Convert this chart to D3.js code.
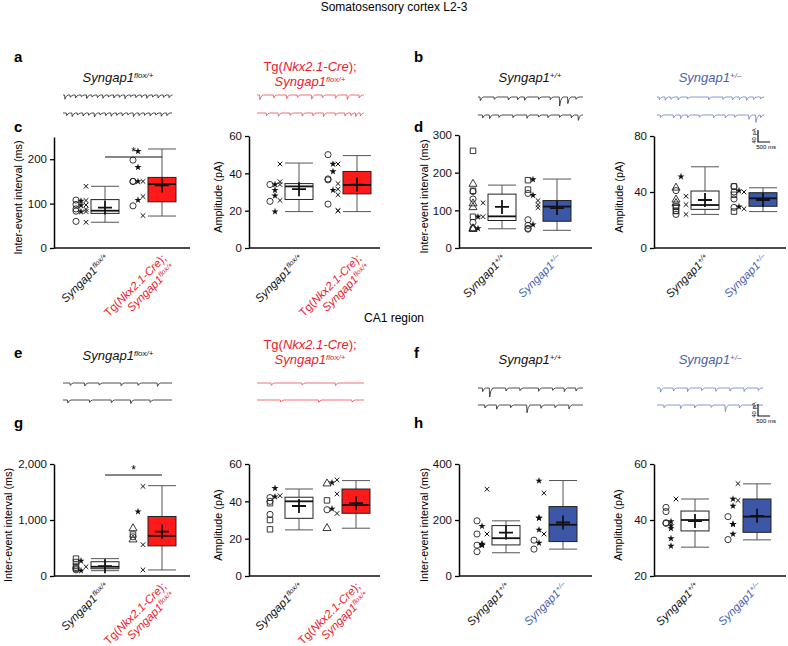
<!DOCTYPE html>
<html><head><meta charset="utf-8">
<script src="https://cdn.jsdelivr.net/npm/d3@7"></script>
<style>body{margin:0;background:#fff}svg{font-family:"Liberation Sans",Arial,sans-serif}</style>
</head><body>
<svg id="fig" width="788" height="646"></svg>
<script>
// ================= DATA =================
// box stats: [whiskerLow, q1, median, q3, whiskerHigh, mean]
const cIEI_flox = [58, 78, 84, 109, 139, 91];
const cIEI_cre  = [72, 104, 144, 159, 223, 141];
const cAmp_flox = [19.5, 26, 33, 34.5, 45.5, 31.5];
const cAmp_cre  = [19.5, 29, 33.8, 41, 49.5, 34];
const dIEI_wt   = [51, 73, 84, 143, 167, 109];
const dIEI_het  = [47, 71, 110, 126, 183, 106];
const dAmp_wt   = [24, 27.6, 30.7, 40.7, 58, 34.3];
const dAmp_het  = [26, 29.8, 35.5, 39.5, 43, 34.3];
const gIEI_flox = [95, 130, 165, 255, 310, 175];
const gIEI_cre  = [108, 538, 717, 1063, 1613, 794];
const gAmp_flox = [24.7, 30.9, 40, 42.2, 46.6, 37.5];
const gAmp_cre  = [25.6, 33.6, 38, 46.6, 51.1, 39];
const hIEI_wt   = [83, 111, 135, 180, 197, 155];
const hIEI_het  = [96, 123, 183, 248, 341, 191];
const hAmp_wt   = [30.3, 36.1, 40, 43.2, 47.5, 39.6];
const hAmp_het  = [32.9, 35.6, 41.2, 47.5, 52.9, 41.5];

// individual cells: [value, symbol]  (o circle, s square, t triangle, * star, x cross)
const cIEI_floxPts = [[139,"x"],[108,"o"],[106,"*"],[107,"x"],[98,"o"],[96,"*"],[97,"x"],[88,"o"],[87,"x"],[83,"o"],[82,"*"],[82,"x"],[60,"o"],[58,"x"]];
const cIEI_crePts  = [[218,"*"],[198,"o"],[182,"*"],[150,"o"],[150,"o"],[150,"*"],[150,"x"],[116,"x"],[108,"*"],[95,"o"],[73,"x"]];
const cAmp_floxPts = [[45,"x"],[35.5,"x"],[34,"x"],[34,"*"],[34,"o"],[31,"*"],[28,"*"],[25,"o"],[25.5,"x"],[19.5,"*"]];
const cAmp_crePts  = [[50,"o"],[45,"*"],[45,"x"],[41,"*"],[37,"o"],[36.5,"o"],[34.5,"x"],[31,"*"],[31.5,"x"],[28.5,"x"],[23.5,"o"],[20,"x"],[20,"x"]];
const dIEI_wtPts   = [[258,"s"],[170,"t"],[150,"o"],[152,"s"],[130,"o"],[120,"x"],[118,"t"],[108,"t"],[83,"x"],[83,"s"],[83,"*"],[68,"o"],[52,"t"],[52,"o"],[50,"t"],[52,"*"]];
const dIEI_hetPts  = [[180,"s"],[182,"*"],[155,"s"],[145,"o"],[140,"*"],[126,"x"],[115,"x"],[107,"x"],[75,"o"],[62,"*"],[60,"o"],[50,"o"],[52,"o"]];
const dAmp_wtPts   = [[51,"*"],[43,"t"],[41,"o"],[37,"x"],[34.5,"t"],[32,"t"],[31,"x"],[29.5,"o"],[29.5,"s"],[26.5,"s"],[26.5,"s"],[24,"x"],[24,"o"]];
const dAmp_hetPts  = [[44,"o"],[44,"s"],[40,"x"],[40,"o"],[41,"*"],[38,"s"],[35,"o"],[29,"o"],[28,"x"],[29.5,"*"],[26,"s"]];
const gIEI_floxPts = [[110,"o"],[180,"s"],[130,"o"],[250,"s"],[270,"*"],[165,"x"],[150,"o"],[310,"s"],[95,"*"]];
const gIEI_crePts  = [[1600,"x"],[1150,"*"],[850,"t"],[740,"s"],[700,"o"],[650,"t"],[560,"x"],[110,"x"]];
const gAmp_floxPts = [[47,"*"],[43,"x"],[42,"o"],[42.5,"*"],[40,"o"],[39,"s"],[33,"o"],[30,"s"],[25,"s"]];
const gAmp_crePts  = [[51.5,"x"],[50,"*"],[49.5,"t"],[44,"x"],[40.5,"s"],[36,"*"],[35.5,"o"],[33.5,"x"],[25.6,"t"]];
const hIEI_wtPts   = [[310,"x"],[197,"o"],[178,"*"],[150,"x"],[150,"o"],[115,"*"],[110,"o"],[110,"*"],[112,"*"],[87,"o"]];
const hIEI_hetPts  = [[340,"*"],[296,"x"],[207,"*"],[207,"*"],[165,"*"],[150,"x"],[128,"o"],[118,"*"],[96,"o"]];
const hAmp_wtPts   = [[47.5,"x"],[44.5,"o"],[43,"o"],[39,"o"],[38.8,"o"],[39.5,"*"],[38,"*"],[37,"*"],[33.4,"*"],[30.7,"*"]];
const hAmp_hetPts  = [[53,"x"],[47,"x"],[47.5,"*"],[45,"*"],[41.2,"o"],[38.5,"*"],[38.5,"*"],[35,"*"],[33,"o"]];

// axis ticks
const iei_c_ticks = [0, 100, 200];
const amp_ticks60 = [0, 20, 40, 60];
const iei_d_ticks = [0, 100, 200, 300];
const amp_ticks80 = [0, 40, 80];
const iei_g_ticks = [0, 1000, 2000];
const iei_h_ticks = [0, 200, 400];
const amp_h_ticks = [20, 40, 60];

// example traces: events [time ms, amplitude pA]
const trA_flox1 = [[80,14],[300,8],[520,10],[760,6],[980,12],[1200,7],[1420,9],[1650,11],[1880,7],[2100,10],[2330,8],[2560,12],[2790,6],[3010,9],[3240,8],[3460,11],[3700,7],[3930,10],[4150,8],[4380,9]];
const trA_flox2 = [[150,9],[380,12],[600,7],[830,10],[1060,8],[1300,13],[1530,7],[1760,9],[1990,11],[2220,8],[2450,10],[2680,7],[2910,12],[3140,9],[3370,8],[3600,10],[3830,7],[4060,11],[4290,9]];
const trA_cre1  = [[120,16],[700,10],[1250,12],[1700,8],[2300,14],[2750,9],[3300,11],[3800,15],[4300,10]];
const trA_cre2  = [[400,9],[900,11],[1400,8],[1900,10],[2350,9],[2800,12],[3300,8],[3700,10],[3950,9],[4150,12],[4350,10]];
const trB_wt1   = [[100,12],[700,8],[1300,10],[1700,9],[2000,11],[2600,8],[3100,9],[3500,30],[3850,22],[4200,8]];
const trB_wt2   = [[200,10],[500,12],[900,8],[1500,9],[2100,11],[2600,7],[3000,9],[3500,8],[4000,10],[4300,18]];
const trB_het1  = [[100,9],[350,11],[600,8],[900,10],[1300,7],[2200,9],[2800,8],[3200,10],[3500,9],[3800,11],[4100,8],[4400,7]];
const trB_het2  = [[150,8],[700,10],[1000,12],[1300,9],[1800,8],[2400,9],[2900,10],[3300,8],[3900,14],[4200,25],[4400,9]];
const trE_flox1 = [[300,8],[900,10],[1500,7],[2400,9],[3100,8],[3900,11]];
const trE_flox2 = [[200,10],[1100,8],[2000,9],[2800,12],[3600,8]];
const trE_cre1  = [[600,8],[1900,7],[3300,9]];
const trE_cre2  = [[1000,7],[2600,8],[4000,7]];
const trF_wt1   = [[200,12],[500,30],[1200,10],[1800,9],[2600,11],[3200,8],[3700,12],[4200,10]];
const trF_wt2   = [[300,10],[800,14],[1400,9],[2100,26],[2700,11],[3300,9],[3900,13]];
const trF_het1  = [[150,14],[700,10],[1300,12],[1900,9],[2500,11],[3100,10],[3700,12],[4300,9]];
const trF_het2  = [[300,9],[1000,12],[1600,10],[2300,8],[2900,22],[3500,10],[4100,11]];

// ================= STYLE / LAYOUT =================
const RED = "#ff1a1a", RED_T = "#e8202e", RED_TR = "#ef4b55";
const BLUE = "#3c57a8", BLUE_T = "#4a62ae", BLUE_TR = "#6a80c4";
const svg = d3.select("#fig");

svg.append("text").attr("x", 394).attr("y", 11).attr("text-anchor","middle").attr("font-size",12).text("Somatosensory cortex L2-3");
svg.append("text").attr("x", 394).attr("y", 322).attr("text-anchor","middle").attr("font-size",12).text("CA1 region");

[["a",14,62],["b",414,62],["c",14,132],["d",414,132],["e",14,358],["f",414,358],["g",14,428],["h",414,428]]
  .forEach(([t,x,y]) => svg.append("text").attr("x",x).attr("y",y).attr("font-size",15).attr("font-weight","bold").text(t));

// genotype text helpers
function geno(sel, sup, color) {
  sel.append("tspan").attr("font-style","italic").attr("fill",color).text("Syngap1");
  sel.append("tspan").attr("font-style","italic").attr("fill",color).attr("font-size","0.62em").attr("dy","-0.55em").text(sup);
}
function creLine(sel, color) {
  sel.append("tspan").attr("fill",color).text("Tg(");
  sel.append("tspan").attr("fill",color).attr("font-style","italic").text("Nkx2.1-Cre");
  sel.append("tspan").attr("fill",color).text(");");
}
function titleText(x, y, kind, color) {
  if (kind === "cre") {
    const t1 = svg.append("text").attr("x",x).attr("y",y-7).attr("text-anchor","middle").attr("font-size",13);
    creLine(t1, color);
    const t2 = svg.append("text").attr("x",x).attr("y",y+8).attr("text-anchor","middle").attr("font-size",13);
    geno(t2, "flox/+", color);
  } else {
    const t = svg.append("text").attr("x",x).attr("y",y).attr("text-anchor","middle").attr("font-size",13);
    geno(t, kind, color);
  }
}
titleText(118, 82, "flox/+", "#111");
titleText(310, 78, "cre", RED_T);
titleText(530, 82, "+/+", "#111");
titleText(710, 82, "+/\u2013", BLUE_T);
titleText(118, 360, "flox/+", "#111");
titleText(310, 356, "cre", RED_T);
titleText(530, 364, "+/+", "#111");
titleText(710, 364, "+/\u2013", BLUE_T);

// traces
const tX = d3.scaleLinear().domain([0, 4500]);
const ampK = 0.3; // px per pA
function trace(events, x0, x1, y, color) {
  tX.range([x0, x1]);
  const yS = d3.scaleLinear().domain([0, 40]).range([y, y + 40 * ampK]);
  const pts = [[0, 0]];
  events.forEach(([t, a]) => { pts.push([t - 15, 0], [t, a], [t + 50, a * 0.35], [t + 130, 0]); });
  pts.push([4500, 0]);
  svg.append("path").attr("d", d3.line().x(d => tX(d[0])).y(d => yS(d[1]))(pts))
    .attr("fill","none").attr("stroke",color).attr("stroke-width",0.8);
}
trace(trA_flox1, 63, 172, 95, "#222"); trace(trA_flox2, 63, 172, 113, "#222");
trace(trA_cre1, 257, 364, 95, RED_TR); trace(trA_cre2, 257, 364, 113, RED_TR);
trace(trB_wt1, 478, 583, 97, "#222"); trace(trB_wt2, 478, 583, 115, "#222");
trace(trB_het1, 657, 763, 97, BLUE_TR); trace(trB_het2, 657, 763, 115, BLUE_TR);
trace(trE_flox1, 63, 172, 383, "#222"); trace(trE_flox2, 63, 172, 400, "#222");
trace(trE_cre1, 257, 364, 383, RED_TR); trace(trE_cre2, 257, 364, 400, RED_TR);
trace(trF_wt1, 478, 583, 388, "#222"); trace(trF_wt2, 478, 583, 405, "#222");
trace(trF_het1, 657, 763, 388, BLUE_TR); trace(trF_het2, 657, 763, 405, BLUE_TR);

function scaleBar(x, y) {
  tX.range([0, 109]);
  const w = tX(500), h = 40 * ampK;
  svg.append("path").attr("d", `M${x},${y - h}V${y}H${x + w}`).attr("fill","none").attr("stroke","#111").attr("stroke-width",1.2);
  svg.append("text").attr("transform", `translate(${x - 2},${y - h / 2}) rotate(-90)`).attr("text-anchor","middle").attr("font-size",6).text("40 pA");
  svg.append("text").attr("x", x + w / 2 + 2).attr("y", y + 7).attr("text-anchor","middle").attr("font-size",6).text("500 ms");
}
scaleBar(758, 142);
scaleBar(758, 416);

// symbols
const starPath = d3.symbol().type(d3.symbolStar).size(16)();
const circPath = d3.symbol().type(d3.symbolCircle).size(30)();
const sqPath = d3.symbol().type(d3.symbolSquare).size(30)();
const triPath = d3.symbol().type(d3.symbolTriangle).size(28)();
const crossPath = "M-2.3,-2.3L2.3,2.3M-2.3,2.3L2.3,-2.3";
const colOf = { o: 0, s: 0, t: 0, "*": 1, x: 2 };

function boxPanel(cfg) {
  const g = svg.append("g");
  const y = d3.scaleLinear().domain(cfg.domain).range([cfg.y0, cfg.yTop]);
  const x = d3.scalePoint().domain([0, 1]).range(cfg.centers);
  const ax = g.append("g").attr("transform", `translate(${cfg.x0},0)`)
    .call(d3.axisLeft(y).tickValues(cfg.ticks).tickSize(4).tickSizeOuter(0).tickPadding(3).tickFormat(cfg.fmt || d3.format("d")));
  ax.select(".domain").attr("stroke-width", 1.5);
  ax.selectAll(".tick line").attr("stroke-width", 1.3);
  ax.selectAll("text").attr("font-size", 11.5).attr("fill", "#111").style("font-family", "Liberation Sans, Arial, sans-serif");
  g.append("line").attr("x1", cfg.x0).attr("x2", cfg.x1).attr("y1", cfg.y0).attr("y2", cfg.y0).attr("stroke", "#111").attr("stroke-width", 1.5);
  g.append("text").attr("transform", `translate(${cfg.x0 - cfg.tOff},${(cfg.y0 + cfg.yTop) / 2 + 5}) rotate(-90)`)
    .attr("text-anchor", "middle").attr("font-size", 10.8).text(cfg.title);
  const bw = 28;
  [cfg.s0, cfg.s1].forEach((s, i) => {
    const cx = x(i);
    const [lo, q1, med, q3, hi, mean] = s;
    g.append("line").attr("x1", cx).attr("x2", cx).attr("y1", y(lo)).attr("y2", y(hi)).attr("stroke", "#555").attr("stroke-width", 1);
    [lo, hi].forEach(v => g.append("line").attr("x1", cx - bw / 2).attr("x2", cx + bw / 2).attr("y1", y(v)).attr("y2", y(v)).attr("stroke", "#555").attr("stroke-width", 1));
    g.append("rect").attr("x", cx - bw / 2).attr("width", bw).attr("y", y(q3)).attr("height", y(q1) - y(q3))
      .attr("fill", i === 0 ? "#fff" : cfg.fill).attr("stroke", "#222").attr("stroke-width", 1);
    g.append("line").attr("x1", cx - bw / 2).attr("x2", cx + bw / 2).attr("y1", y(med)).attr("y2", y(med)).attr("stroke", "#111").attr("stroke-width", 1.8);
    g.append("path").attr("d", `M${cx - 7},${y(mean)}H${cx + 7}M${cx},${y(mean) - 7}V${y(mean) + 7}`).attr("stroke", "#111").attr("stroke-width", 1.8);
    const pts = i === 0 ? cfg.p0 : cfg.p1;
    pts.forEach(([v, sym]) => {
      const px = cx - bw / 2 - 15 + colOf[sym] * 5;
      const py = y(v);
      const p = g.append("path").attr("transform", `translate(${px},${py})`);
      if (sym === "*") p.attr("d", starPath).attr("fill", "#111");
      else if (sym === "x") p.attr("d", crossPath).attr("stroke", "#111").attr("stroke-width", 1).attr("fill", "none");
      else p.attr("d", sym === "o" ? circPath : sym === "s" ? sqPath : triPath).attr("fill", "none").attr("stroke", "#222").attr("stroke-width", 0.9);
    });
  });
  // category labels
  const fs = 11.5;
  cfg.labels.forEach((lab, i) => {
    const cx = x(i);
    const t = g.append("text").attr("transform", `translate(${cx + 5},${cfg.y0 + 11}) rotate(-45)`).attr("text-anchor", "end").attr("font-size", fs);
    if (lab === "cre") {
      creLine(t, RED_T);
      const t2 = g.append("text").attr("transform", `translate(${cx + 14},${cfg.y0 + 20}) rotate(-45)`).attr("text-anchor", "end").attr("font-size", fs);
      geno(t2, "flox/+", RED_T);
    } else {
      geno(t, lab, i === 0 ? "#111" : (lab === "+/\u2013" ? BLUE_T : RED_T));
    }
  });
  if (cfg.sig) {
    g.append("line").attr("x1", x(0)).attr("x2", x(1)).attr("y1", cfg.sig).attr("y2", cfg.sig).attr("stroke", "#111").attr("stroke-width", 1.2);
    g.append("text").attr("x", (x(0) + x(1)) / 2).attr("y", cfg.sig - 1).attr("text-anchor", "middle").attr("font-size", 12).text("*");
  }
}

const fmtK = d3.format(",");
boxPanel({ x0: 54, x1: 190, y0: 248, yTop: 137, domain: [0, 250], ticks: iei_c_ticks, centers: [105, 162], s0: cIEI_flox, s1: cIEI_cre, p0: cIEI_floxPts, p1: cIEI_crePts, fill: RED, title: "Inter-event interval (ms)", tOff: 32, labels: ["flox/+", "cre"], sig: 157 });
boxPanel({ x0: 249, x1: 380, y0: 248, yTop: 136, domain: [0, 60], ticks: amp_ticks60, centers: [299, 357], s0: cAmp_flox, s1: cAmp_cre, p0: cAmp_floxPts, p1: cAmp_crePts, fill: RED, title: "Amplitude (pA)", tOff: 27, labels: ["flox/+", "cre"] });
boxPanel({ x0: 459, x1: 592, y0: 248, yTop: 135, domain: [0, 300], ticks: iei_d_ticks, centers: [502, 557], s0: dIEI_wt, s1: dIEI_het, p0: dIEI_wtPts, p1: dIEI_hetPts, fill: BLUE, title: "Inter-event interval (ms)", tOff: 31, labels: ["+/+", "+/\u2013"] });
boxPanel({ x0: 654, x1: 786, y0: 248, yTop: 136, domain: [0, 80], ticks: amp_ticks80, centers: [705, 763], s0: dAmp_wt, s1: dAmp_het, p0: dAmp_wtPts, p1: dAmp_hetPts, fill: BLUE, title: "Amplitude (pA)", tOff: 31, labels: ["+/+", "+/\u2013"] });
boxPanel({ x0: 54, x1: 190, y0: 576, yTop: 464, domain: [0, 2000], ticks: iei_g_ticks, fmt: fmtK, centers: [105, 162], s0: gIEI_flox, s1: gIEI_cre, p0: gIEI_floxPts, p1: gIEI_crePts, fill: RED, title: "Inter-event interval (ms)", tOff: 42, labels: ["flox/+", "cre"], sig: 475 });
boxPanel({ x0: 249, x1: 380, y0: 576, yTop: 464, domain: [0, 60], ticks: amp_ticks60, centers: [299, 356], s0: gAmp_flox, s1: gAmp_cre, p0: gAmp_floxPts, p1: gAmp_crePts, fill: RED, title: "Amplitude (pA)", tOff: 27, labels: ["flox/+", "cre"] });
boxPanel({ x0: 459, x1: 592, y0: 576, yTop: 464, domain: [0, 400], ticks: iei_h_ticks, centers: [506, 563], s0: hIEI_wt, s1: hIEI_het, p0: hIEI_wtPts, p1: hIEI_hetPts, fill: BLUE, title: "Inter-event interval (ms)", tOff: 31, labels: ["+/+", "+/\u2013"] });
boxPanel({ x0: 654, x1: 786, y0: 576, yTop: 464, domain: [20, 60], ticks: amp_h_ticks, centers: [695, 757], s0: hAmp_wt, s1: hAmp_het, p0: hAmp_wtPts, p1: hAmp_hetPts, fill: BLUE, title: "Amplitude (pA)", tOff: 32, labels: ["+/+", "+/\u2013"] });
</script>
</body></html>
